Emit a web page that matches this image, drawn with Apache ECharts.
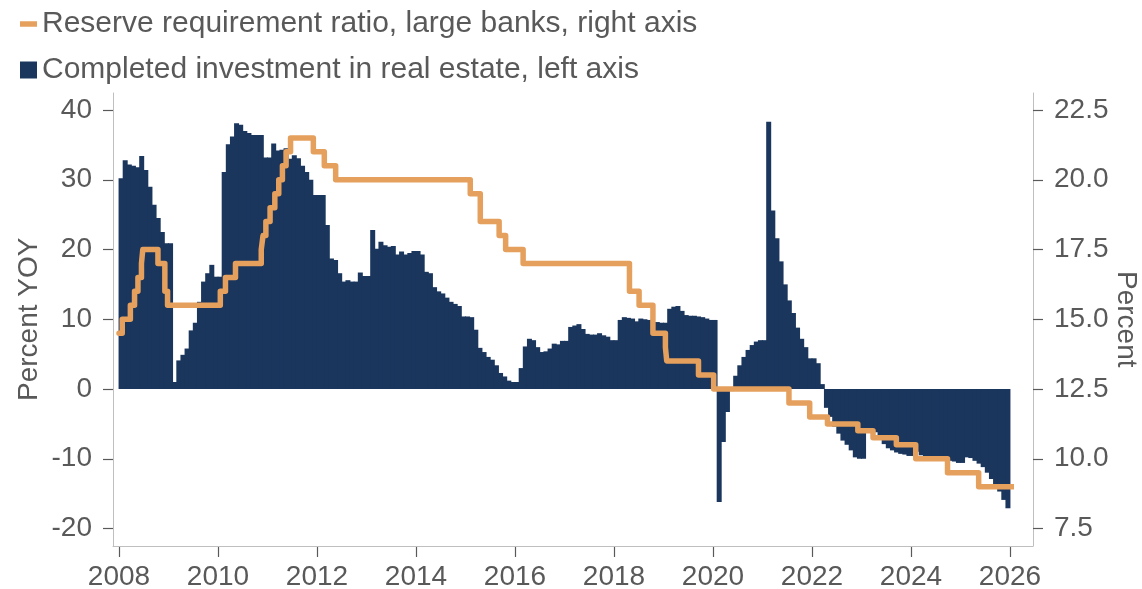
<!DOCTYPE html>
<html>
<head>
<meta charset="utf-8">
<script src="https://cdn.jsdelivr.net/npm/echarts@6/dist/echarts.min.js"></script>
<style>
html,body{margin:0;padding:0;background:#fff;}
#chart{width:1142px;height:589px;}
</style>
</head>
<body>
<div id="chart"></div>
<script>
// ---- data ----
const barName = 'Completed investment in real estate, left axis';
const lineName = 'Reserve requirement ratio, large banks, right axis';
const firstYear = 2008;
// monthly YoY (YTD) growth, Jan 2008 .. Dec 2025
const investmentYoY = [
  30.2, 32.8, 32.2, 32.0, 31.8, 33.4, 31.4, 29.0, 26.4, 24.5, 22.5, 20.9, // 2008
  20.9, 1.0, 4.1, 4.9, 5.8, 8.4, 9.5, 12.5, 15.4, 16.6, 17.8, 16.1,      // 2009
  16.1, 31.1, 35.1, 36.2, 38.1, 37.9, 37.0, 36.7, 36.4, 36.4, 36.4, 33.2, // 2010
  33.2, 35.2, 34.2, 34.3, 34.5, 33.0, 33.5, 33.1, 32.0, 31.1, 30.0, 27.8, // 2011
  27.8, 27.8, 23.5, 18.7, 18.5, 16.6, 15.4, 15.6, 15.4, 15.4, 16.7, 16.2, // 2012
  16.2, 22.8, 20.1, 21.1, 20.6, 20.4, 20.5, 19.3, 19.7, 19.3, 19.5, 19.8, // 2013
  19.8, 19.3, 16.8, 16.6, 14.6, 14.0, 13.7, 13.1, 12.5, 12.2, 11.9, 10.4, // 2014
  10.4, 10.3, 8.5, 5.9, 5.3, 4.6, 4.2, 3.4, 2.3, 1.8, 1.2, 1.0,           // 2015
  1.0, 3.0, 6.1, 7.2, 7.0, 6.0, 5.3, 5.4, 5.8, 6.5, 6.4, 6.9,             // 2016
  6.9, 8.9, 9.1, 9.3, 8.6, 7.9, 7.8, 7.8, 8.0, 7.7, 7.5, 7.0,             // 2017
  7.0, 9.9, 10.3, 10.2, 10.1, 9.7, 10.1, 10.0, 9.9, 9.6, 9.6, 9.5,        // 2018
  9.5, 11.5, 11.8, 11.9, 11.2, 10.6, 10.5, 10.5, 10.4, 10.3, 10.1, 9.9,   // 2019
  9.9, -16.2, -7.6, -3.3, -0.3, 1.9, 3.4, 4.6, 5.6, 6.3, 6.8, 7.0,        // 2020
  7.0, 38.3, 25.6, 21.6, 18.3, 15.0, 12.7, 10.9, 8.8, 7.2, 6.0, 4.4,      // 2021
  4.4, 3.7, 0.7, -2.7, -4.0, -5.4, -6.4, -7.4, -8.0, -8.8, -9.8, -10.0,   // 2022
  -10.0, -5.7, -5.8, -6.2, -7.2, -7.9, -8.5, -8.8, -9.1, -9.3, -9.4, -9.6, // 2023
  -9.6, -9.0, -9.5, -9.8, -10.1, -10.1, -10.2, -10.2, -10.1, -10.3, -10.4, -10.6, // 2024
  -10.6, -9.8, -9.9, -10.3, -10.7, -11.2, -12.0, -12.9, -13.9, -14.7, -15.9, -17.1 // 2025
];
// reserve requirement ratio changes (effective dates), large banks
const rrrDates = ['2008-01-01','2008-01-25','2008-03-25','2008-04-25','2008-05-20','2008-06-15','2008-06-25','2008-10-15','2008-12-05','2008-12-25',
  '2010-01-18','2010-02-25','2010-05-10','2010-11-16','2010-11-29','2010-12-20','2011-01-20','2011-02-24','2011-03-25','2011-04-21','2011-05-18','2011-06-20','2011-12-05',
  '2012-02-24','2012-05-18','2015-02-05','2015-04-20','2015-09-06','2015-10-24','2016-03-01','2018-04-25','2018-07-05','2018-10-15','2019-01-15','2019-01-25','2019-09-16',
  '2020-01-06','2021-07-15','2021-12-15','2022-04-25','2022-12-05','2023-03-27','2023-09-15','2024-02-05','2024-09-27','2025-05-15','2026-01-31'];
const rrrValues = [14.5,15.0,15.5,16.0,16.5,17.0,17.5,17.0,16.0,15.5,
  16.0,16.5,17.0,17.5,18.0,18.5,19.0,19.5,20.0,20.5,21.0,21.5,21.0,
  20.5,20.0,19.5,18.5,18.0,17.5,17.0,16.0,15.5,14.5,14.0,13.5,13.0,
  12.5,12.0,11.5,11.25,11.0,10.75,10.5,10.0,9.5,9.0,9.0];
const xTickYears = [2008, 2026, 2];   // min, max, step
const leftTicks = [-20, 40, 10];
const rightTicks = [7.5, 22.5, 2.5];

// ---- helpers ----
function decYear(s) {
  const [y, m, d] = s.split('-').map(Number);
  const start = Date.UTC(y, 0, 1), end = Date.UTC(y + 1, 0, 1);
  return y + (Date.UTC(y, m - 1, d) - start) / (end - start);
}
const barData = investmentYoY.map((v, i) => [firstYear + (i + 0.5) / 12, v]);
const lineData = rrrDates.map((d, i) => [decYear(d), rrrValues[i]]);

const TXT = '#595959';
const AXIS = '#BFBFBF';
const FONT = 'Liberation Sans, Arial, sans-serif';

const chart = echarts.init(document.getElementById('chart'), null, {renderer: 'canvas'});
chart.setOption({
  animation: false,
  backgroundColor: '#fff',
  textStyle: {fontFamily: FONT, color: TXT},
  legend: {
    orient: 'vertical', left: 15, top: 2, itemWidth: 17, itemHeight: 17, itemGap: 12,
    symbolKeepAspect: true,
    textStyle: {fontFamily: FONT, fontSize: 30, color: TXT, lineHeight: 34},
    data: [
      {name: lineName, icon: 'path://M0 0H34V11H0Z', itemStyle: {color: '#E5A05E'}},
      {name: barName, icon: 'rect', itemStyle: {color: '#1B365D'}}
    ]
  },
  grid: [
    {left: 113, right: 109, top: 93, bottom: 43, show: false, outerBoundsMode: 'none', containLabel: false},
    {left: 119, right: 132, top: 110, bottom: 60.5, show: false, outerBoundsMode: 'none', containLabel: false}
  ],
  xAxis: [
    {gridIndex: 0, type: 'value', min: 0, max: 1, axisLine: {show: true, onZero: false, lineStyle: {color: AXIS, width: 1}},
     axisTick: {show: false}, axisLabel: {show: false}, splitLine: {show: false}},
    {gridIndex: 1, type: 'value', min: xTickYears[0], max: xTickYears[1], interval: xTickYears[2], offset: 18.5,
     axisLine: {show: false, onZero: false}, axisTick: {show: true, length: 10, lineStyle: {color: TXT, width: 1.2}},
     axisLabel: {show: true, margin: 16, fontSize: 28, color: TXT, fontFamily: FONT, formatter: v => String(v)},
     splitLine: {show: false}}
  ],
  yAxis: [
    {gridIndex: 0, type: 'value', position: 'left', min: 0, max: 1, axisLine: {show: true, onZero: false, lineStyle: {color: AXIS, width: 1}},
     axisTick: {show: false}, axisLabel: {show: false}, splitLine: {show: false}},
    {gridIndex: 0, type: 'value', position: 'right', min: 0, max: 1, axisLine: {show: true, onZero: false, lineStyle: {color: AXIS, width: 1}},
     axisTick: {show: false}, axisLabel: {show: false}, splitLine: {show: false}},
    {gridIndex: 1, type: 'value', position: 'left', offset: 6, min: leftTicks[0], max: leftTicks[1], interval: leftTicks[2],
     name: 'Percent YOY', nameLocation: 'middle', nameGap: 70, nameRotate: 90, nameMoveOverlap: false,
     nameTextStyle: {fontSize: 28, color: TXT, fontFamily: FONT},
     axisLine: {show: false, onZero: false}, axisTick: {show: true, length: 10, lineStyle: {color: TXT, width: 1.2}},
     axisLabel: {margin: 21, fontSize: 28, color: TXT, fontFamily: FONT}, splitLine: {show: false}},
    {gridIndex: 1, type: 'value', position: 'right', offset: 23, min: rightTicks[0], max: rightTicks[1], interval: rightTicks[2],
     name: 'Percent', nameLocation: 'middle', nameGap: 79, nameRotate: -90, nameMoveOverlap: false,
     nameTextStyle: {fontSize: 28, color: TXT, fontFamily: FONT},
     axisLine: {show: false, onZero: false}, axisTick: {show: true, length: 10, lineStyle: {color: TXT, width: 1.2}},
     axisLabel: {margin: 21, fontSize: 28, color: TXT, fontFamily: FONT, formatter: v => v.toFixed(1)}, splitLine: {show: false}}
  ],
  series: [
    {name: barName, type: 'bar', xAxisIndex: 1, yAxisIndex: 2, data: barData, barWidth: 5,
     itemStyle: {color: '#1B365D'}, clip: false, z: 2},
    {name: lineName, type: 'line', xAxisIndex: 1, yAxisIndex: 3, data: lineData, step: 'end',
     symbol: 'none', clip: false, z: 3,
     lineStyle: {color: '#E5A05E', width: 5.5, cap: 'round', join: 'round'},
     itemStyle: {color: '#E5A05E'}}
  ]
});
</script>
</body>
</html>
